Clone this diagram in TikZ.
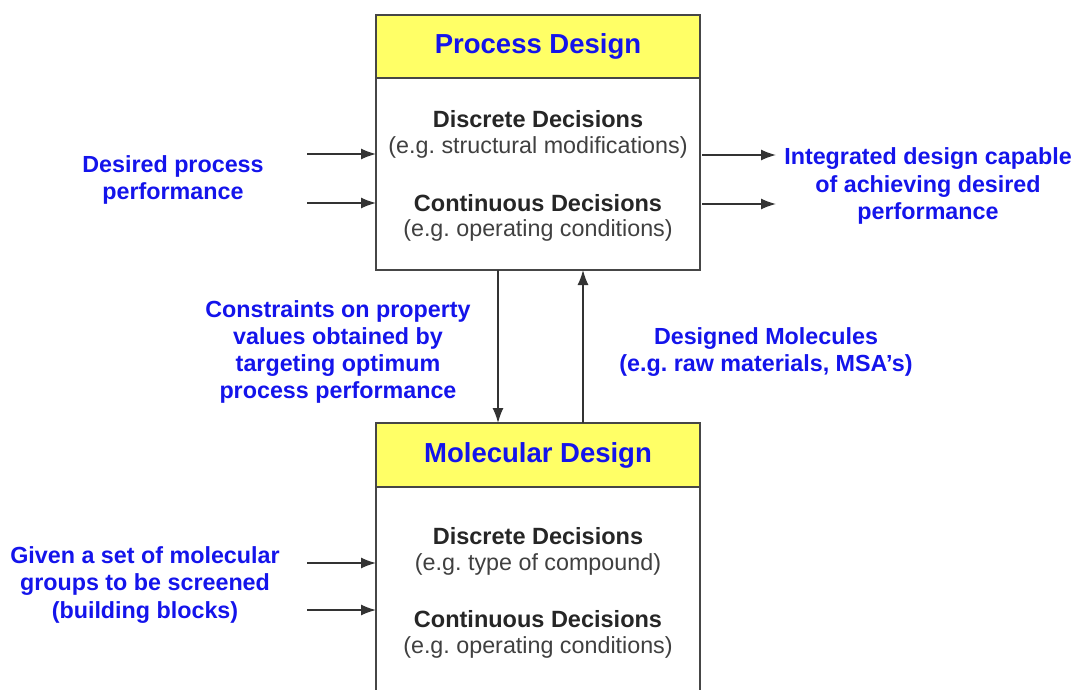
\documentclass[tikz,border=0pt]{standalone}
\usepackage{fontspec}
\setmainfont{Liberation Sans}
\usetikzlibrary{arrows.meta}
\frenchspacing
\definecolor{hdryellow}{RGB}{255,255,102}
\definecolor{lblblue}{RGB}{20,20,235}
\definecolor{edgegray}{RGB}{70,70,70}
\tikzset{
  box/.style={draw=edgegray, line width=1.6pt, fill=white},
  header/.style={draw=edgegray, line width=1.6pt, fill=hdryellow},
  title/.style={font=\fontsize{27.5}{30}\selectfont\bfseries, text=lblblue},
  dhead/.style={font=\fontsize{23.5}{26}\selectfont\bfseries, text=black!85},
  dsub/.style={font=\fontsize{23.3}{26}\selectfont, text=black!75},
  blabel/.style={font=\fontsize{23.3}{27.2}\selectfont\bfseries, text=lblblue, align=center},
  flow/.style={draw=black!80, line width=1.4pt, -{Latex[length=15pt,width=11pt]}}
}
\begin{document}
\begin{tikzpicture}[x=1pt,y=1pt]
\useasboundingbox (0,0) rectangle (1076,-690);

% Process design block
\draw[box] (376,-15) rectangle (700,-270);
\draw[header] (376,-15) rectangle (700,-78);
\node[title] (pt) at (538,-46) {Process Design};
\node[dhead] (p1) at (538,-119) {Discrete Decisions};
\node[dsub]  (p2) at (538,-147) {(e.g. structural modifications)};
\node[dhead] (p3) at (538,-203) {Continuous Decisions};
\node[dsub]  (p4) at (538,-230) {(e.g. operating conditions)};
\coordinate (pL1) at (376,-154);
\coordinate (pL2) at (376,-203);
\coordinate (pR1) at (702,-155);
\coordinate (pR2) at (702,-204);
\coordinate (pB1) at (498,-270);
\coordinate (pB2) at (583,-270);

% Molecular design block
\draw[box] (376,-423) rectangle (700,-700);
\draw[header] (376,-423) rectangle (700,-487);
\node[title] (mt) at (538,-455) {Molecular Design};
\node[dhead] (m1) at (538,-536) {Discrete Decisions};
\node[dsub]  (m2) at (538,-564) {(e.g. type of compound)};
\node[dhead] (m3) at (538,-619) {Continuous Decisions};
\node[dsub]  (m4) at (538,-647) {(e.g. operating conditions)};
\coordinate (mL1) at (376,-563);
\coordinate (mL2) at (376,-610);
\coordinate (mT1) at (498,-423);
\coordinate (mT2) at (583,-423);

% Free arrow ends
\coordinate (a1) at (307,-154);
\coordinate (a2) at (307,-203);
\coordinate (b1) at (776,-155);
\coordinate (b2) at (776,-204);
\coordinate (c1) at (307,-563);
\coordinate (c2) at (307,-610);

% Labels
\node[blabel] (lin) at (173,-180) {Desired process\\performance};
\node[blabel] (lout) at (928,-186) {Integrated design capable\\of achieving desired\\performance};
\node[blabel] (lcon) at (338,-352) {Constraints on property\\values obtained by\\targeting optimum\\process performance};
\node[blabel] (lmol) at (766,-352) {Designed Molecules\\(e.g. raw materials, MSA’s)};
\node[blabel] (lgrp) at (145,-585) {Given a set of molecular\\groups to be screened\\(building blocks)};

% Connectors
\draw[flow] (a1) -- (pL1);
\draw[flow] (a2) -- (pL2);
\draw[flow] (pR1) -- (b1);
\draw[flow] (pR2) -- (b2);
\draw[flow] (pB1) -- (mT1);
\draw[flow] (mT2) -- (pB2);
\draw[flow] (c1) -- (mL1);
\draw[flow] (c2) -- (mL2);
\end{tikzpicture}
\end{document}
